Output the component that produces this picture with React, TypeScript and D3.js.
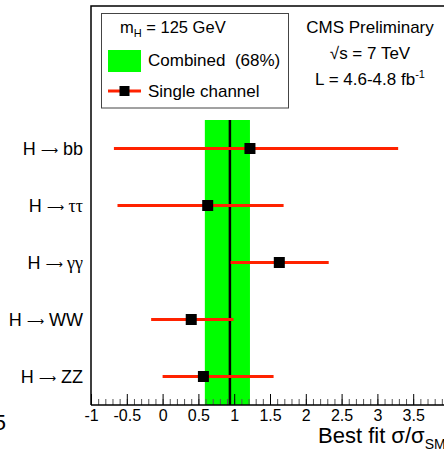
import React, { useEffect, useRef } from 'react'
import * as d3 from 'd3'

const WIDTH = 444
const HEIGHT = 453

const channels = ['bb', 'ττ', 'γγ', 'WW', 'ZZ']
const bestFit = [1.22, 0.63, 1.63, 0.4, 0.57]
const errLow = [-0.68, -0.63, 0.95, -0.16, 0.0]
const errHigh = [3.29, 1.69, 2.32, 0.99, 1.55]

const combinedFit = 0.94
const combinedBand = [0.59, 1.22]

const majorTicks = [-1, -0.5, 0, 0.5, 1, 1.5, 2, 2.5, 3, 3.5, 4]
const tickLabels = ['-1', '-0.5', '0', '0.5', '1', '1.5', '2', '2.5', '3', '3.5', '']

const FONT = 'Liberation Sans, Arial, Helvetica, sans-serif'
const RED = '#ff2200'
const GREEN = '#00ff00'

const App = () => {
  const ref = useRef<SVGSVGElement>(null)

  useEffect(() => {
    const svg = d3.select(ref.current)
    svg.selectAll('*').remove()

    const x = d3.scaleLinear().domain([-1, 4.2]).range([91, 91 + 5.2 * 71.6])
    const y = d3.scaleBand().domain(channels).range([120, 405])

    svg.append('rect').attr('width', WIDTH).attr('height', HEIGHT).attr('fill', 'white')

    // combined band + best fit line
    svg.append('rect')
      .attr('x', x(combinedBand[0]))
      .attr('y', y.range()[0])
      .attr('width', x(combinedBand[1]) - x(combinedBand[0]))
      .attr('height', y.range()[1] - y.range()[0])
      .attr('fill', GREEN)

    svg.append('line')
      .attr('x1', x(combinedFit)).attr('x2', x(combinedFit))
      .attr('y1', y.range()[0]).attr('y2', y.range()[1])
      .attr('stroke', 'black').attr('stroke-width', 2.5)

    // single channels
    const rows = svg.append('g').selectAll('g')
      .data(channels)
      .enter()
      .append('g')

    rows.append('line')
      .attr('x1', (d, i) => x(errLow[i]))
      .attr('x2', (d, i) => x(errHigh[i]))
      .attr('y1', (d) => y(d)! + y.bandwidth() / 2)
      .attr('y2', (d) => y(d)! + y.bandwidth() / 2)
      .attr('stroke', RED).attr('stroke-width', 3)

    rows.append('rect')
      .attr('x', (d, i) => x(bestFit[i]) - 5.5)
      .attr('y', (d) => y(d)! + y.bandwidth() / 2 - 5.5)
      .attr('width', 11).attr('height', 11)
      .attr('fill', 'black')

    const labels = rows.append('text')
      .attr('x', 83)
      .attr('y', (d) => y(d)! + y.bandwidth() / 2 + 6)
      .attr('text-anchor', 'end')
      .attr('font-family', FONT).attr('font-size', 18)
      .attr('xml:space', 'preserve')
    labels.append('tspan').text('H ')
    labels.append('tspan').attr('font-family', 'DejaVu Sans').attr('font-size', 12).attr('dy', -1).text('⟶')
    labels.append('tspan').attr('dy', 1)
      .attr('font-family', (d) => /[a-zA-Z]/.test(d) ? FONT : 'Liberation Serif, serif')
      .text((d) => ' ' + d)

    // x axis: minor then major ticks, pointing into the frame
    const minor = svg.append('g').attr('transform', 'translate(0, 405)')
      .call(d3.axisBottom(x)
        .tickValues(d3.range(-10, 43).map((v) => v / 10))
        .tickSize(-6).tickFormat(() => ''))
    minor.select('.domain').remove()
    minor.selectAll('line').attr('stroke', '#555')

    const major = svg.append('g').attr('transform', 'translate(0, 405)')
      .call(d3.axisBottom(x)
        .tickValues(majorTicks)
        .tickSize(-11).tickPadding(5)
        .tickFormat((d, i) => tickLabels[i]))
    major.select('.domain').remove()
    major.selectAll('text').attr('font-family', FONT).attr('font-size', 16).attr('fill', 'black')

    // frame
    svg.append('path')
      .attr('d', `M91,405H${WIDTH + 5}M91,405V6H${WIDTH + 5}`)
      .attr('fill', 'none').attr('stroke', 'black').attr('stroke-width', 1.5)

    // axis title
    const title = svg.append('text').attr('x', 318).attr('y', 443)
      .attr('font-family', FONT).attr('font-size', 22)
    title.append('tspan').text('Best fit σ/σ')
    title.append('tspan').attr('font-size', 14).attr('dy', 6).text('SM')

    svg.append('text').attr('x', 6).attr('y', 430).attr('text-anchor', 'end')
      .attr('font-family', FONT).attr('font-size', 22).text('5')

    // legend
    const legend = svg.append('g')
    legend.append('rect')
      .attr('x', 101.5).attr('y', 13.5).attr('width', 187).attr('height', 94.5)
      .attr('fill', 'white').attr('stroke', '#444').attr('stroke-width', 1)

    const mh = legend.append('text').attr('x', 120).attr('y', 33)
      .attr('font-family', FONT).attr('font-size', 16.5)
    mh.append('tspan').text('m')
    mh.append('tspan').attr('font-size', 11).attr('dy', 4).text('H')
    mh.append('tspan').attr('dy', -4).text(' = 125 GeV')

    legend.append('rect')
      .attr('x', 108).attr('y', 50).attr('width', 33).attr('height', 22).attr('fill', GREEN)
    legend.append('text').attr('x', 148).attr('y', 66)
      .attr('font-family', FONT).attr('font-size', 17)
      .attr('xml:space', 'preserve').text('Combined  (68%)')

    legend.append('line')
      .attr('x1', 108).attr('x2', 141).attr('y1', 91).attr('y2', 91)
      .attr('stroke', RED).attr('stroke-width', 3)
    legend.append('rect')
      .attr('x', 119.5).attr('y', 86).attr('width', 10).attr('height', 10).attr('fill', 'black')
    legend.append('text').attr('x', 148).attr('y', 97)
      .attr('font-family', FONT).attr('font-size', 17).text('Single channel')

    // CMS label
    const cms = svg.append('g').attr('font-family', FONT).attr('font-size', 17)
      .attr('text-anchor', 'middle')
    cms.append('text').attr('x', 370).attr('y', 33).text('CMS Preliminary')
    cms.append('text').attr('x', 370).attr('y', 59).text('√s = 7 TeV')
    const lumi = cms.append('text').attr('x', 370).attr('y', 85)
    lumi.append('tspan').text('L = 4.6-4.8 fb')
    lumi.append('tspan').attr('font-size', 11).attr('dy', -7).text('-1')
  }, [])

  return (
    <svg ref={ref} width={WIDTH} height={HEIGHT}
      style={{ position: 'absolute', left: 0, top: 0, display: 'block' }} />
  )
}

export default App
